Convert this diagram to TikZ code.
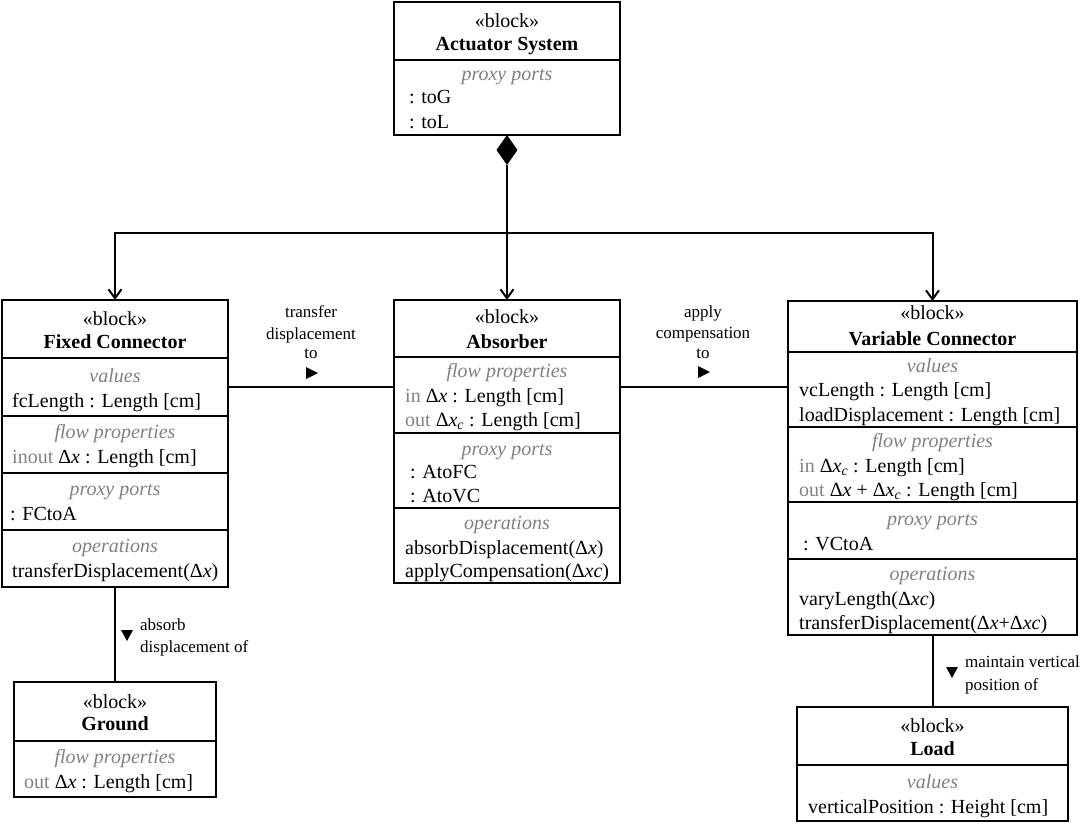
\documentclass[tikz,border=0pt]{standalone}
\usepackage{fontspec}
\setmainfont{Liberation Serif}
\usetikzlibrary{arrows.meta,shapes.geometric}
\definecolor{hdgray}{RGB}{128,128,128}
\newcommand{\dx}{Δ\textit{x}}
\newcommand{\dxc}{Δ\textit{x}\textsubscript{\textit{c}}}
\newcommand{\gr}[1]{\textcolor{hdgray}{#1}}
\begin{document}
\begin{tikzpicture}[x=1pt,y=-1pt,
  blk/.style={draw, line width=2.2pt, inner sep=0pt, outer sep=0pt, anchor=north west},
  sep/.style={line width=2.2pt},
  hd/.style={anchor=base, inner sep=0pt, font=\fontsize{20}{24}\selectfont\itshape, text=hdgray},
  ttl/.style={anchor=base, inner sep=0pt, font=\fontsize{20}{24}\selectfont},
  nm/.style={anchor=base, inner sep=0pt, font=\fontsize{20}{24}\selectfont\bfseries},
  itm/.style={anchor=base west, inner sep=0pt, font=\fontsize{20}{24}\selectfont},
  lbl/.style={anchor=base, inner sep=0pt, font=\fontsize{17}{20}\selectfont},
  lblw/.style={anchor=base west, inner sep=0pt, font=\fontsize{17}{20}\selectfont},
  con/.style={line width=2pt},
  comp/.style={line width=2pt, -{Straight Barb[length=9pt,width=13pt,line width=2pt]}},
]
\useasboundingbox (0,0) rectangle (1080,823);

% ---------- Actuator System ----------
\node[blk, minimum width=226pt, minimum height=133pt] (as) at (394,2) {};
\draw[sep] (as.west |- 0,60) -- (as.east |- 0,60);
\node[ttl] (as1) at (507,27) {«block»};
\node[nm] (as2) at (507,50) {Actuator System};
\node[hd] (as3) at (507,80) {proxy ports};
\node[itm] (as4) at (409,103) {: toG};
\node[itm] (as5) at (409,128) {: toL};
\node[diamond, fill=black, aspect=0.7, minimum width=21pt, minimum height=30pt, inner sep=0pt, outer sep=0pt, anchor=north] (dia) at (as.south) {};

% ---------- Fixed Connector ----------
\node[blk, minimum width=226pt, minimum height=287pt] (fc) at (2,300) {};
\foreach \yy in {358,416,473,530} \draw[sep] (fc.west |- 0,\yy) -- (fc.east |- 0,\yy);
\node[ttl] (fc1) at (115,325) {«block»};
\node[nm] (fc2) at (115,348) {Fixed Connector};
\node[hd] (fc3) at (115,382) {values};
\node[itm] (fc4) at (12,407) {fcLength : Length [cm]};
\node[hd] (fc5) at (115,438) {flow properties};
\node[itm] (fc6) at (12,463) {\gr{inout} \dx{} : Length [cm]};
\node[hd] (fc7) at (115,495) {proxy ports};
\node[itm] (fc8) at (10,520) {: FCtoA};
\node[hd] (fc9) at (115,552) {operations};
\node[itm] (fc10) at (12,577) {transferDisplacement(\dx)};

% ---------- Absorber ----------
\node[blk, minimum width=226pt, minimum height=283pt] (ab) at (394,300) {};
\foreach \yy in {357,433,508} \draw[sep] (ab.west |- 0,\yy) -- (ab.east |- 0,\yy);
\node[ttl] (ab1) at (507,323) {«block»};
\node[nm] (ab2) at (507,348) {Absorber};
\node[hd] (ab3) at (507,377) {flow properties};
\node[itm] (ab4) at (405,402) {\gr{in} \dx{} : Length [cm]};
\node[itm] (ab5) at (405,426) {\gr{out} \dxc{} : Length [cm]};
\node[hd] (ab6) at (507,455) {proxy ports};
\node[itm] (ab7) at (410,478) {: AtoFC};
\node[itm] (ab8) at (410,502) {: AtoVC};
\node[hd] (ab9) at (507,529) {operations};
\node[itm] (ab10) at (405,554) {absorbDisplacement(\dx)};
\node[itm] (ab11) at (405,577) {applyCompensation(Δ\textit{xc})};

% ---------- Variable Connector ----------
\node[blk, minimum width=289pt, minimum height=334pt] (vc) at (788,301) {};
\foreach \yy in {352,427,502,559} \draw[sep] (vc.west |- 0,\yy) -- (vc.east |- 0,\yy);
\node[ttl] (vc1) at (932.5,319) {«block»};
\node[nm] (vc2) at (932.5,345) {Variable Connector};
\node[hd] (vc3) at (932.5,372) {values};
\node[itm] (vc4) at (799,396) {vcLength : Length [cm]};
\node[itm] (vc5) at (799,421) {loadDisplacement : Length [cm]};
\node[hd] (vc6) at (932.5,447) {flow properties};
\node[itm] (vc7) at (799,472) {\gr{in} \dxc{} : Length [cm]};
\node[itm] (vc8) at (799,496) {\gr{out} \dx{} + \dxc{} : Length [cm]};
\node[hd] (vc9) at (932.5,525) {proxy ports};
\node[itm] (vc10) at (803,550) {: VCtoA};
\node[hd] (vc11) at (932.5,580) {operations};
\node[itm] (vc12) at (799,605) {varyLength(Δ\textit{xc})};
\node[itm] (vc13) at (799,629) {transferDisplacement(\dx+Δ\textit{xc})};

% ---------- Ground ----------
\node[blk, minimum width=202pt, minimum height=115pt] (gr) at (14,682) {};
\draw[sep] (gr.west |- 0,741) -- (gr.east |- 0,741);
\node[ttl] (gr1) at (115,708) {«block»};
\node[nm] (gr2) at (115,730) {Ground};
\node[hd] (gr3) at (115,763) {flow properties};
\node[itm] (gr4) at (24,788) {\gr{out} \dx{} : Length [cm]};

% ---------- Load ----------
\node[blk, minimum width=271pt, minimum height=114pt] (ld) at (797,707) {};
\draw[sep] (ld.west |- 0,765) -- (ld.east |- 0,765);
\node[ttl] (ld1) at (932.5,732) {«block»};
\node[nm] (ld2) at (932.5,755) {Load};
\node[hd] (ld3) at (932.5,788) {values};
\node[itm] (ld4) at (808,813) {verticalPosition : Height [cm]};

% ---------- Composition ----------
\coordinate (j) at (507,233);
\draw[con] (dia.south) -- (j);
\draw[comp] (j) -- (ab.north);
\draw[comp] (j) -| (fc.north);
\draw[comp] (j) -| (vc.north);

% ---------- Associations ----------
\coordinate (la) at (0,387);
\draw[con] (fc.east |- la) -- (ab.west |- la);
\draw[con] (ab.east |- la) -- (vc.west |- la);
\draw[con] (fc.south) -- (gr.north);
\draw[con] (vc.south) -- (ld.north);

\node[lbl] (t1) at (311,317) {transfer};
\node[lbl] (t2) at (311,339) {displacement};
\node[lbl] (t3) at (311,358) {to};
\fill (306,367) -- (318,373) -- (306,379) -- cycle;

\node[lbl] (a1) at (703,317) {apply};
\node[lbl] (a2) at (703,338) {compensation};
\node[lbl] (a3) at (703,358) {to};
\fill (698,366) -- (710,372) -- (698,378) -- cycle;

\fill (121,630) -- (133,630) -- (127,641) -- cycle;
\node[lblw] (g1) at (140,630) {absorb};
\node[lblw] (g2) at (140,652) {displacement of};

\fill (946,667) -- (958,667) -- (952,678) -- cycle;
\node[lblw] (m1) at (965,667) {maintain vertical};
\node[lblw] (m2) at (965,690) {position of};
\end{tikzpicture}
\end{document}
